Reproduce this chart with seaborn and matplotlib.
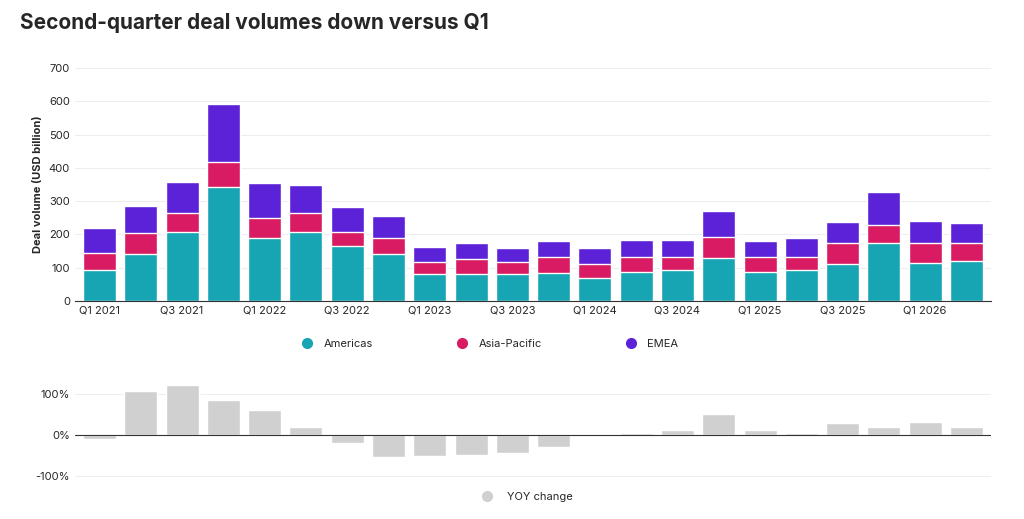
import matplotlib
matplotlib.use("Agg")
from matplotlib import pyplot as plt
from matplotlib.lines import Line2D
import numpy as np
import pandas as pd
import seaborn as sns

quarters = [f"Q{q} {y}" for y in range(2021, 2027) for q in range(1, 5)][:22]
americas = [93, 141, 207, 342, 189, 207, 165, 141, 81, 81, 81, 84, 69, 87, 93, 129, 87, 93, 111, 174, 114, 120]
asia_pacific = [51, 63, 57, 75, 60, 57, 42, 48, 36, 45, 36, 48, 42, 45, 39, 63, 45, 39, 63, 54, 60, 54]
emea = [75, 81, 93, 174, 105, 84, 75, 66, 45, 48, 42, 48, 48, 51, 51, 78, 48, 57, 63, 99, 66, 60]
yoy = [-10, 107, 122, 85, 61, 20, -20, -55, -52, -50, -45, -30, -3, 4, 12, 50, 12, 4, 30, 20, 32, 20]

teal, pink, purple, grey = "#17a5b4", "#d81b63", "#5b22d8", "#d0d0d0"

df = pd.DataFrame({"quarter": quarters, "Americas": americas,
                   "Asia-Pacific": asia_pacific, "EMEA": emea, "yoy": yoy})
df["ap_top"] = df["Americas"] + df["Asia-Pacific"]
df["total"] = df["ap_top"] + df["EMEA"]

sns.set_style("white")
plt.rcParams['font.family'] = ['Inter', 'DejaVu Sans']
fig = plt.figure(figsize=(10.24, 5.19), dpi=100)
ax = fig.add_axes([0.073, 0.42, 0.895, 0.449])
ax2 = fig.add_axes([0.073, 0.075, 0.895, 0.193])

for col, c in [("total", purple), ("ap_top", pink), ("Americas", teal)]:
    sns.barplot(data=df, x="quarter", y=col, color=c, width=0.8,
                saturation=1, ax=ax)
ax.set_ylim(0, 700)
ax.set_yticks(range(0, 701, 100))
ax.grid(axis="y", color="#eeeeee", lw=0.8)
ax.set_axisbelow(True)
ax.set_xlabel("")
ax.set_ylabel("Deal volume (USD billion)", fontsize=8, fontweight="bold")
ax.set_xticks(range(0, 22, 2))
ax.set_xticklabels(quarters[::2], fontsize=8)
ax.tick_params(axis="y", labelsize=8, length=0)
ax.tick_params(axis="x", length=0)
sns.despine(ax=ax, left=True)
ax.spines["bottom"].set_color("#333333")
ax.set_xlim(-0.6, 21.6)

handles = [Line2D([], [], marker="o", ls="", color=c, markersize=7) for c in (teal, pink, purple)]
ax.legend(handles, ["Americas", "Asia-Pacific", "EMEA"], loc="upper center",
          bbox_to_anchor=(0.45, -0.12), ncol=3, frameon=False, fontsize=8,
          columnspacing=7, handletextpad=0.5)

sns.barplot(data=df, x="quarter", y="yoy", color=grey, width=0.8, saturation=1, ax=ax2)
ax2.set_ylim(-110, 134)
ax2.set_yticks([-100, 0, 100])
ax2.set_yticklabels(["-100%", "0%", "100%"], fontsize=8)
ax2.grid(axis="y", color="#eeeeee", lw=0.8)
ax2.set_axisbelow(True)
ax2.axhline(0, color="#333333", lw=0.8)
ax2.set_xticks([])
ax2.set_xlabel("")
ax2.set_ylabel("")
ax2.tick_params(axis="y", length=0)
ax2.set_xlim(-0.6, 21.6)
sns.despine(ax=ax2, left=True, bottom=True)
ax2.legend([Line2D([], [], marker="o", ls="", color=grey, markersize=7)], ["YOY change"],
           loc="upper center", bbox_to_anchor=(0.49, -0.02), frameon=False, fontsize=8)

fig.text(0.02, 0.955, "Second-quarter deal volumes down versus Q1", fontsize=15,
         fontweight="bold", va="center")
fig.savefig("out.png", dpi=100)
